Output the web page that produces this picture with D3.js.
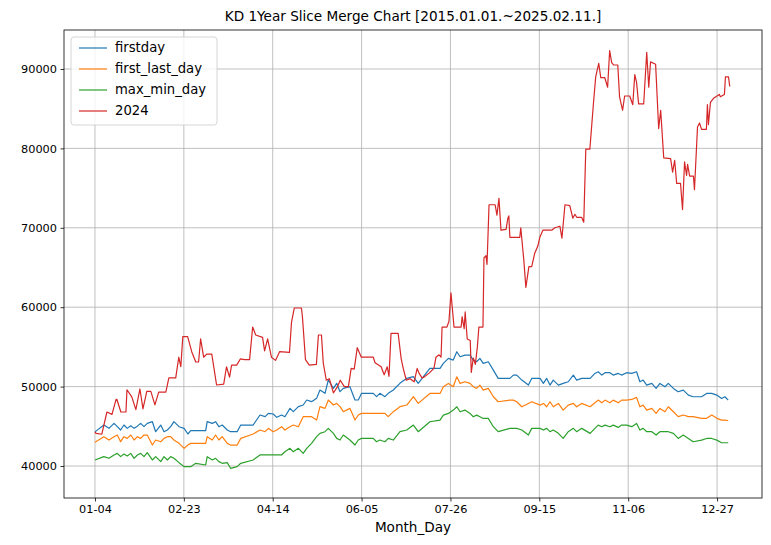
<!DOCTYPE html>
<html><head><meta charset="utf-8">
<script src="https://cdn.jsdelivr.net/npm/d3@7/dist/d3.min.js"></script>
<style>body{margin:0;background:#fff}svg{font-family:"DejaVu Sans",sans-serif}</style>
</head><body><svg id="c" width="771" height="545"></svg>
<script>
const tickLabels = ["01-04","02-23","04-14","06-05","07-26","09-15","11-06","12-27"];
const tickIdx = [0,35,70,105,140,175,210,245];
const yTicks = [40000,50000,60000,70000,80000,90000];

const dayIdx = [0,3.5,5.5,7.5,8.8,10.1,11.4,12.7,14.1,15.4,16.7,18,19.3,20.6,22.6,23.9,25.9,27.2,28.5,29.8,31.1,33.1,35.1,36.6,37.7,39.7,43.6,44.2,46.2,47.5,48.8,50.1,52.1,53.4,56,57.4,
62.3,65,67,68.3,70.2,71.6,73.5,74.8,76.8,78.1,80.1,82,83.4,85.3,87.3,88.6,90.6,91.9,93.9,95.2,96.5,97.8,100.4,102.4,103.7,105,107,109.6,110.9,112.2,114.2,115.5,117.5,120.1,122.8,125.4,127.3,
131.9,135.9,137.2,139.2,141.1,142.5,143.8,145.7,147.7,149,150.3,151.6,152.9,154.9,156.9,158.8,163.4,164.8,166.1,168.1,170.7,172,175.3,176.6,177.9,179.2,180.5,182.5,184.4,186.4,188.4,189.7,191.7,195,
196.9,198.2,199.6,200.9,202.8,204.1,206.1,207.4,209.4,211.4,213.3,214.6,215.9,217.3,219.3,221,222.5,224.5,225.8,227.8,229.7,231.7,233.7,235.6,238.9,240.9,242.9,244.9,246.8,248.1,249.4];

const firstday = [44300,45160,44740,45370,44950,44530,45160,44740,45060,44740,45020,45370,44950,45370,45580,44320,45160,44320,44530,44950,45580,44950,44740,44030,44450,44450,44450,45580,45370,45580,44950,45160,44530,44320,44320,45160,
45160,46420,46210,46630,46550,46130,46420,46210,47260,46840,47470,47680,48310,48100,48520,49570,49150,50830,49780,50410,49360,49780,49990,48310,48310,49150,49150,49150,48730,49150,48730,49150,49570,50410,51040,51250,50410,
52290,52290,52920,53550,53340,54390,53760,53970,53970,53340,53130,53550,52920,53130,52080,51030,51030,51450,51450,50820,50190,51030,51030,50400,51030,50190,50820,50190,50400,50610,51450,50820,51030,51030,
51660,51870,51450,51750,51750,51450,51660,51450,51750,51660,51870,50610,50820,50190,50400,49770,50400,49980,50400,49770,49350,49560,48930,48720,48720,49140,49140,48930,48510,48720,48300];

const firstLastDay = [42980,43690,43270,43690,43900,43060,43690,43480,43900,43270,43690,43480,43900,43900,42640,43270,43060,43480,43690,43690,43270,42850,42220,42640,42850,42850,42850,43690,43270,43900,43270,43690,42850,42640,42640,43480,
44030,44530,44320,44740,44320,44530,44950,44530,44950,45160,44950,46210,46210,46210,45790,47470,47260,48310,47680,47890,47470,46840,47260,45790,46420,46630,46630,46630,46630,46630,46630,46210,46840,47470,47680,48730,47890,
49140,49140,49980,50400,49980,51240,50400,50610,50400,49980,49770,50190,49560,49770,48720,48090,48300,48300,48090,47460,47880,48090,47670,47880,47460,48090,47460,47880,47040,47670,47880,47460,47880,47460,
47960,48300,47960,48300,47960,48300,47960,48300,48300,48380,48640,47460,47670,47040,47250,46630,47250,46830,47460,46830,46210,46420,46210,46210,46000,46000,46420,46000,45780,45780,45700];

const maxMinDay = [40760,41180,40970,41390,41590,41180,41510,41260,41590,40970,41390,41590,41180,41680,40760,41180,40550,41180,40760,41180,40970,40420,39920,39920,39920,40340,40130,41180,40760,40970,40550,40340,40420,39710,39920,40340,
40760,41390,41390,41390,41390,41390,41390,41800,42220,41800,42220,41590,42220,42850,43690,44110,44320,44740,44110,43480,43270,43900,43270,42640,43270,43480,43480,43480,43060,43270,43060,43480,43270,44320,44530,45160,44320,
45570,45780,46410,46620,47040,47460,46830,47040,46620,46200,46410,46200,45990,45990,44950,44320,44740,44740,44740,44530,43900,44740,44740,44530,44740,44320,44530,44110,43470,44320,44740,44320,44740,44110,
44740,45150,44950,45150,44950,45150,44860,45150,45150,44950,45360,44530,44740,44320,44320,43900,44320,44320,44320,44110,43470,43900,43470,43050,43260,43470,43470,43260,42930,42930,42930];

const redDay = [0,0.4,2.7,4.7,6.7,8.3,8.6,10.2,12.2,12.6,14.5,16.1,17.7,18.9,20.4,22.0,23.6,25.1,27.9,29.1,31.8,33.0,33.8,34.6,36.5,38.1,39.7,40.8,41.6,42.8,44.0,46.0,47.9,50.7,51.8,53.0,53.8,55.8,57.3,58.9,60.9,62.1,63.3,66.0,66.8,68.0,69.5,71.1,72.7,76.6,77.4,78.5,81.3,81.7,82.9,84.4,87.2,88.0,89.2,89.9,91.1,92.3,93.9,95.5,96.6,98.2,99.8,100.9,102.1,103.3,104.9,109.6,110.3,112.7,113.9,115.1,115.8,116.6,119.4,120.6,121.4,122.6,124.1,125.7,126.9,127.6,128.8,129.6,131.6,133.5,134.3,135.5,136.3,136.7,138.6,139.4,140.2,141.4,144.2,144.6,145.4,145.8,146.6,147.8,148.2,149.0,149.8,150.6,151.2,152.8,153.2,154.0,154.4,155.2,157.6,158.3,159.1,159.9,161.9,162.6,163.0,163.4,167.3,167.7,168.9,169.7,170.9,172.0,173.2,174.4,175.2,176.4,179.9,181.1,183.1,183.9,185.1,187.0,188.2,189.0,189.8,191.7,192.5,193.3,194.9,196.4,197.2,198.4,199.2,200.8,201.9,202.7,203.5,204.3,205.9,206.6,207.8,208.6,210.6,211.8,212.6,213.3,214.1,216.1,217.3,218.1,218.8,220.8,222.0,222.8,224.0,226.7,227.5,228.3,229.1,230.6,231.4,232.2,233.0,233.4,234.2,235.7,236.1,237.3,238.1,238.9,240.8,241.2,241.6,242.4,243.6,245.9,246.3,247.9,248.3,249.5,250];
const red2024 = [44300,44100,44000,46800,46500,48400,48400,46800,46800,49600,48700,47100,49700,47200,49400,49400,47700,49300,49300,51100,51100,53700,52500,56300,56300,54400,53100,53100,56000,53700,54100,54100,50200,50300,52500,51200,52700,52700,53500,53400,53400,57500,56500,56200,54500,56000,53700,53300,54400,54300,58100,59900,59900,58800,53400,52700,52800,56500,56500,53000,50800,51000,49200,50000,50800,50000,50000,52300,52200,54900,53700,53700,53000,52500,51500,52500,51300,56700,56700,53500,52300,50800,51000,50600,52300,51700,51100,51200,51700,52300,53700,54000,53700,57500,57500,58200,61800,57500,57500,58800,57300,59400,56000,55800,51800,53600,52800,55000,57500,57500,66200,66500,65400,72900,72900,71600,73700,69700,69800,71200,71500,68800,68800,70000,65900,62500,65100,65100,66800,67700,68800,69700,69700,70000,70200,68700,72900,72800,71200,71700,71300,71300,70700,79900,79900,86000,89000,90700,88900,88900,87700,92300,90800,90500,90500,86500,84800,86600,86600,85500,89300,88300,85600,85600,92100,87700,90900,90600,82500,84800,78800,78700,77000,78500,75600,75600,72300,78300,76600,78000,76500,76500,74800,82700,83200,82400,82400,85500,83000,85800,86300,86800,86500,86800,89000,89000,87800];

const seriesNames = ["firstday","first_last_day","max_min_day","2024"];
const colors = ["#1f77b4","#ff7f0e","#2ca02c","#d62728"];

const L=64,R=762,T=30,B=498;
const svg=d3.select("#c");
const x=d3.scaleLinear().domain([-12.2,262.7]).range([L,R]);
const y=d3.scaleLinear().domain([35970,94910]).range([B,T]);

// grid
svg.append("g").selectAll("line").data(tickIdx).join("line")
 .attr("x1",d=>x(d)).attr("x2",d=>x(d)).attr("y1",T).attr("y2",B)
 .attr("stroke","#b0b0b0").attr("stroke-width",0.8);
svg.append("g").selectAll("line").data(yTicks).join("line")
 .attr("x1",L).attr("x2",R).attr("y1",d=>y(d)).attr("y2",d=>y(d))
 .attr("stroke","#b0b0b0").attr("stroke-width",0.8);

const line=d3.line().x(d=>x(d[0])).y(d=>y(d[1]));
const data=[d3.zip(dayIdx,firstday),d3.zip(dayIdx,firstLastDay),d3.zip(dayIdx,maxMinDay),d3.zip(redDay,red2024)];
data.forEach((s,i)=>svg.append("path").datum(s).attr("d",line).attr("fill","none")
 .attr("stroke",colors[i]).attr("stroke-width",1.2).attr("stroke-linejoin","round"));

// axes
const xa=svg.append("g").attr("transform",`translate(0,${B})`)
 .call(d3.axisBottom(x).tickValues(tickIdx).tickFormat((d,i)=>tickLabels[i]).tickSize(3.5).tickPadding(3.5));
const ya=svg.append("g").attr("transform",`translate(${L},0)`)
 .call(d3.axisLeft(y).tickValues(yTicks).tickFormat(d3.format("d")).tickSize(3.5).tickPadding(3.5));
[xa,ya].forEach(a=>{a.select(".domain").remove();a.selectAll("text").attr("font-size",11.3).attr("fill","#000")
 .attr("font-family","DejaVu Sans");a.selectAll("line").attr("stroke","#000").attr("stroke-width",0.8);});
svg.append("rect").attr("x",L).attr("y",T).attr("width",R-L).attr("height",B-T)
 .attr("fill","none").attr("stroke","#000").attr("stroke-width",0.8);

svg.append("text").attr("x",(L+R)/2).attr("y",21).attr("text-anchor","middle").attr("font-size",13.6)
 .text("KD 1Year Slice Merge Chart [2015.01.01.~2025.02.11.]");
svg.append("text").attr("x",(L+R)/2).attr("y",532).attr("text-anchor","middle").attr("font-size",13.6)
 .text("Month_Day");

// legend
const lg=svg.append("g");
lg.append("rect").attr("x",71).attr("y",37).attr("width",146).attr("height",88).attr("rx",3)
 .attr("fill","#fff").attr("fill-opacity",0.8).attr("stroke","#ccc").attr("stroke-width",0.8);
seriesNames.forEach((n,i)=>{
 const yy=48+i*21;
 lg.append("line").attr("x1",79).attr("x2",107).attr("y1",yy).attr("y2",yy).attr("stroke",colors[i]).attr("stroke-width",1.2);
 lg.append("text").attr("x",115).attr("y",yy+4).attr("font-size",13.2).text(n);
});
</script></body></html>
